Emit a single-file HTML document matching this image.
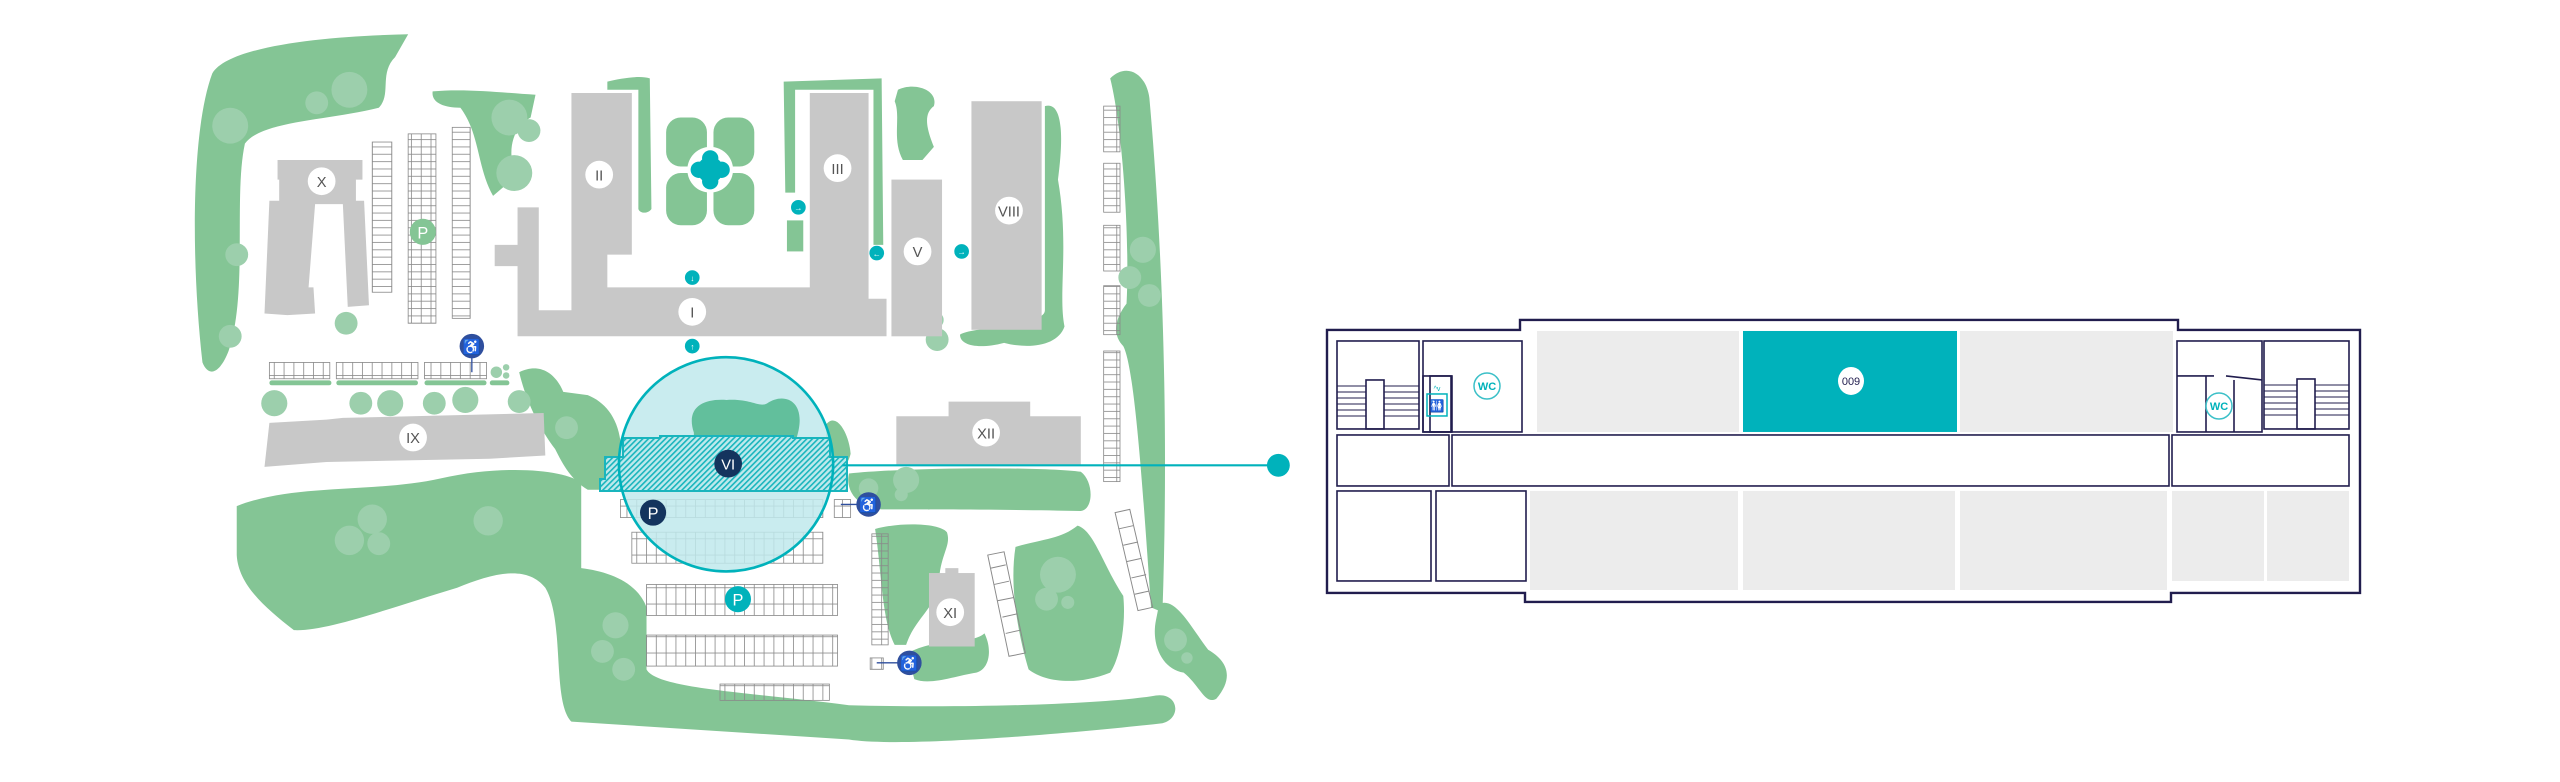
<!DOCTYPE html>
<html><head><meta charset="utf-8"><style>
html,body{margin:0;padding:0;background:#fff;width:2560px;height:782px;overflow:hidden}
svg{display:block}
text{font-family:"Liberation Sans",sans-serif}
</style></head><body>
<svg width="2560" height="782" viewBox="0 0 1568 479" preserveAspectRatio="none" xmlns="http://www.w3.org/2000/svg">
<defs>
<pattern id="h" width="4" height="4" patternUnits="userSpaceOnUse" patternTransform="rotate(45)">
<rect width="4" height="4" fill="#bfe9ec"/><rect width="1.6" height="4" fill="#19b5bd"/></pattern>
<pattern id="pk" width="6" height="10" patternUnits="userSpaceOnUse"><rect width="6" height="10" fill="none" stroke="#8a8a8a" stroke-width="0.5"/></pattern>
<pattern id="pv" width="12" height="4.5" patternUnits="userSpaceOnUse"><rect width="12" height="4.5" fill="none" stroke="#8a8a8a" stroke-width="0.5"/></pattern>
</defs>
<g fill="#84c595">
<path d="M130,45 C140,28 200,22 250,21 L242,35 C232,45 240,58 232,66 C200,74 160,74 150,88 C143,120 152,180 140,215 C135,228 128,232 124,222 C117,160 117,80 130,45 Z"/>
<path d="M265,56 C285,54 310,57 328,58 L325,72 C314,78 310,92 316,108 L302,120 C292,102 294,82 282,66 C272,66 264,63 265,56 Z"/>
<path d="M372,50 C380,48 392,46 398,48 L399,128 C397,131 392,131 391,128 L391,55 L372,55 Z"/>
<path d="M480,50 L540,48 L541,150 L535,150 L535,55 L487,55 L487,118 L481,118 Z"/>
<rect x="482" y="135" width="10" height="19"/>
<path d="M550,55 C560,50 575,55 572,65 C565,70 568,80 572,90 L565,98 L553,98 C546,85 552,72 548,62 Z"/>
<path d="M640,65 C650,62 652,80 648,110 C655,150 648,180 652,200 C648,212 630,214 615,210 C600,214 588,212 588,205 C595,200 640,200 640,190 Z"/>
<path d="M680,48 C690,38 702,45 704,60 C712,150 716,260 712,375 L705,372 C700,300 695,225 688,212 C681,205 683,195 690,186 C692,150 688,80 680,48 Z"/>
<path d="M710,370 C720,365 730,385 740,398 C752,405 756,415 745,428 C738,432 735,420 725,412 C712,410 705,395 708,380 Z"/>
<path d="M145,310 C180,296 230,302 270,293 C310,284 348,288 356,296 L356,348 C372,350 390,356 396,372 L396,410 C402,422 460,424 520,432 C600,434 680,431 708,426 C722,424 724,440 712,443 C650,450 550,458 520,453 L350,442 C338,430 346,380 334,360 C322,345 300,352 280,360 C240,372 200,387 180,386 C162,372 146,358 145,340 Z"/>
<path d="M318,228 C330,222 340,228 345,240 L360,242 C370,246 378,255 380,270 L380,300 L360,300 C350,294 345,285 340,275 C330,262 322,245 318,228 Z"/>
<path d="M506,260 C512,252 520,265 521,278 C518,290 508,292 506,282 Z"/>
<path d="M520,290 C560,286 640,286 662,289 C670,295 670,312 662,313 C620,312 560,312 540,312 C522,310 518,298 520,290 Z"/>
<path d="M536,324 C550,320 575,320 580,326 C583,335 575,340 575,360 C570,375 560,380 555,395 L548,395 C540,380 540,350 536,324 Z"/>
<path d="M556,400 C575,390 595,395 603,388 C608,398 606,410 598,412 C585,414 570,420 560,416 Z"/>
<path d="M622,335 C640,330 650,330 660,322 C670,325 675,345 688,365 C690,385 685,405 680,412 C660,420 640,418 630,410 C624,390 618,360 622,335 Z"/>
<rect x="165" y="233" width="38" height="3" rx="1.5"/><rect x="206" y="233" width="50" height="3" rx="1.5"/><rect x="260" y="233" width="38" height="3" rx="1.5"/><rect x="300" y="233" width="12" height="3" rx="1.5"/>
</g>
<g fill="#9ccfac">
<circle cx="141" cy="77" r="11"/><circle cx="194" cy="63" r="7"/><circle cx="214" cy="55" r="11"/><circle cx="145" cy="156" r="7"/><circle cx="141" cy="206" r="7"/>
<circle cx="312" cy="72" r="11"/><circle cx="324" cy="80" r="7"/><circle cx="315" cy="106" r="11"/>
<circle cx="212" cy="198" r="7"/><circle cx="168" cy="247" r="8"/><circle cx="221" cy="247" r="7"/><circle cx="239" cy="247" r="8"/><circle cx="266" cy="247" r="7"/><circle cx="285" cy="245" r="8"/><circle cx="318" cy="246" r="7"/>
<circle cx="304" cy="228" r="3.5"/><circle cx="310" cy="230" r="2"/><circle cx="310" cy="225" r="2"/>
<circle cx="347" cy="262" r="7"/><circle cx="228" cy="318" r="9"/><circle cx="214" cy="331" r="9"/><circle cx="232" cy="333" r="7"/><circle cx="299" cy="319" r="9"/>
<circle cx="377" cy="383" r="8"/><circle cx="369" cy="399" r="7"/><circle cx="382" cy="410" r="7"/>
<circle cx="700" cy="153" r="8"/><circle cx="692" cy="170" r="7"/><circle cx="704" cy="181" r="7"/><circle cx="648" cy="352" r="11"/><circle cx="641" cy="367" r="7"/><circle cx="654" cy="369" r="4"/>
<circle cx="720" cy="392" r="7"/><circle cx="727" cy="403" r="3.5"/><circle cx="573" cy="196" r="5"/><circle cx="574" cy="208" r="7"/><circle cx="555" cy="294" r="8"/><circle cx="552" cy="303" r="4"/><circle cx="532" cy="299" r="6"/>
</g>
<!-- plaza -->
<g fill="#84c595"><rect x="408" y="72" width="25" height="30" rx="9"/><rect x="437" y="72" width="25" height="30" rx="9"/><rect x="408" y="106" width="25" height="32" rx="9"/><rect x="437" y="106" width="25" height="32" rx="9"/></g>
<circle cx="435" cy="104" r="14" fill="#fff"/>
<g fill="#00b2bb"><circle cx="435" cy="104" r="8"/><circle cx="428" cy="104" r="5"/><circle cx="442" cy="104" r="5"/><circle cx="435" cy="97" r="5"/><circle cx="435" cy="111" r="5"/></g>
<!-- buildings -->
<g fill="#c8c8c8">
<path d="M170,98 L222,98 L222,110 L218,110 L218,123 L223,123 L226,187 L213,188 L210,125 L193,125 L189,176 L192,176 L193,192 L176,193 L162,192 L165,123 L171,123 L171,110 L170,110 Z"/>
<path d="M350,57 L387,57 L387,156 L372,156 L372,176 L496,176 L496,57 L532,57 L532,183 L543,183 L543,206 L317,206 L317,163 L303,163 L303,150 L317,150 L317,127 L330,127 L330,190 L350,190 Z"/>
<rect x="546" y="110" width="31" height="96"/><rect x="595" y="62" width="43" height="140"/>
<path d="M165,259 L200,257 L210,256 L333,253 L334,279 L300,281 L200,283 L162,286 Z"/>
<path d="M549,255 L581,255 L581,246 L631,246 L631,255 L662,255 L662,285 L549,285 Z"/>
<rect x="569" y="351" width="28" height="45"/><rect x="579" y="348" width="8" height="4"/>
</g>
<!-- parking -->
<g fill="url(#pv)" stroke="#8a8a8a" stroke-width="0.5">
<rect x="228" y="87" width="12" height="92"/><rect x="250" y="82" width="17" height="116" /><rect x="277" y="78" width="11" height="117"/>
<rect x="676" y="65" width="10" height="28"/><rect x="676" y="100" width="10" height="30"/><rect x="676" y="138" width="10" height="28"/><rect x="676" y="175" width="10" height="30"/><rect x="676" y="215" width="10" height="80"/>
<rect x="534" y="327" width="10" height="68"/>
</g>
<line x1="258" y1="82" x2="258" y2="198" stroke="#8a8a8a" stroke-width="0.5"/>
<g fill="url(#pk)" stroke="#8a8a8a" stroke-width="0.5">
<rect x="165" y="222" width="37" height="10"/><rect x="206" y="222" width="50" height="10"/><rect x="260" y="222" width="38" height="10"/>
<rect x="380" y="306" width="124" height="11"/><rect x="387" y="326" width="117" height="19"/><rect x="396" y="358" width="117" height="19"/><rect x="396" y="389" width="117" height="19"/><rect x="441" y="419" width="67" height="10"/>
<rect x="511" y="306" width="10" height="11"/><rect x="533" y="403" width="8" height="7"/>
</g>
<g fill="none" stroke="#8a8a8a" stroke-width="0.6"><path d="M605,340 L615,338 L628,400 L618,402 Z M683,314 L692,312 L706,372 L697,374 Z"/>
<path d="M607,348 L616,346 M609,358 L618,356 M611,368 L621,366 M614,378 L623,376 M616,388 L625,386 M685,324 L694,322 M688,334 L697,332 M690,344 L699,342 M693,354 L702,352 M695,364 L704,362"/></g>
<!-- VI circle -->
<circle cx="444.7" cy="284.4" r="65.6" fill="#bfe9ec" fill-opacity="0.85"/>
<path d="M425,265 C420,250 430,244 445,245 C460,244 465,250 470,247 C480,240 495,245 488,268 L425,268 Z" fill="#62bf9c"/>
<g transform="scale(0.6125)" fill="url(#h)" stroke="#19b5bd" stroke-width="2">
<path d="M623,438 L660,438 L660,436 L793,436 L793,438 L830,438 L830,457 L847,457 L847,491 L600,491 L600,479 L605,479 L605,457 L623,457 Z"/>
</g>
<circle cx="444.7" cy="284.4" r="65.6" fill="none" stroke="#00b2bb" stroke-width="1.6"/>
<!-- connector -->
<line x1="516" y1="285" x2="783" y2="285" stroke="#00b2bb" stroke-width="1.3"/>
<circle cx="783" cy="285" r="7" fill="#00b2bb"/>
<!-- labels -->
<g fill="#fff"><circle cx="197" cy="111" r="8.5"/><circle cx="367" cy="107" r="8.5"/><circle cx="513" cy="103" r="8.5"/><circle cx="618" cy="129" r="8.5"/><circle cx="562" cy="154" r="8.5"/><circle cx="424" cy="191" r="8.5"/><circle cx="253" cy="268" r="8.5"/><circle cx="604" cy="265" r="8.5"/><circle cx="582" cy="375" r="8.5"/></g>
<g fill="#555" font-size="9" text-anchor="middle"><text x="197" y="114.5">X</text><text x="367" y="110.5">II</text><text x="513" y="106.5">III</text><text x="618" y="132.5">VIII</text><text x="562" y="157.5">V</text><text x="424" y="194.5">I</text><text x="253" y="271.5">IX</text><text x="604" y="268.5">XII</text><text x="582" y="378.5">XI</text></g>
<circle cx="446" cy="284" r="8.5" fill="#14345e"/><text x="446" y="287.5" fill="#fff" font-size="9" text-anchor="middle">VI</text>
<circle cx="259" cy="142" r="8" fill="#84c595"/><text x="259" y="146" fill="#fff" font-size="10" text-anchor="middle">P</text>
<circle cx="400" cy="314" r="8" fill="#14345e"/><text x="400" y="318" fill="#fff" font-size="10" text-anchor="middle">P</text>
<circle cx="452" cy="367" r="8" fill="#00b2bb"/><text x="452" y="371" fill="#fff" font-size="10" text-anchor="middle">P</text>
<g stroke="#2f4f9e" stroke-width="0.8"><line x1="289" y1="212" x2="289" y2="228"/><line x1="515" y1="309" x2="532" y2="309"/><line x1="537" y1="406" x2="557" y2="406"/></g>
<g fill="#2f4f9e"><circle cx="289" cy="212" r="7.5"/><circle cx="532" cy="309" r="7.5"/><circle cx="557" cy="406" r="7.5"/></g>
<g fill="#fff" font-size="9" text-anchor="middle"><text x="289" y="215.5">♿</text><text x="532" y="312.5">♿</text><text x="557" y="409.5">♿</text></g>
<g fill="#00b2bb"><circle cx="424" cy="170" r="4.5"/><circle cx="424" cy="212" r="4.5"/><circle cx="489" cy="127" r="4.5"/><circle cx="537" cy="155" r="4.5"/><circle cx="589" cy="154" r="4.5"/></g>
<g fill="#fff" font-size="5" text-anchor="middle"><text x="424" y="172">↓</text><text x="424" y="214">↑</text><text x="489" y="129">→</text><text x="537" y="157">←</text><text x="589" y="156">→</text></g>
<!-- floor plan, original coords -->
<g transform="scale(0.6125)">
<g fill="#ececec"><rect x="1537" y="331" width="202" height="101"/><rect x="1960" y="331" width="213" height="101"/>
<rect x="1530" y="491" width="208" height="99"/><rect x="1743" y="491" width="212" height="99"/><rect x="1960" y="491" width="207" height="99"/><rect x="2172" y="491" width="92" height="90"/><rect x="2267" y="491" width="82" height="90"/></g>
<rect x="1743" y="331" width="214" height="101" fill="#00b2bb"/>
<g fill="none" stroke="#211d4e" stroke-width="2.4">
<path d="M1327,330 L1520,330 L1520,320 L2178,320 L2178,330 L2360,330 L2360,593 L2171,593 L2171,602 L1525,602 L1525,593 L1327,593 Z"/>
</g>
<g fill="none" stroke="#211d4e" stroke-width="1.6">
<rect x="1337" y="341" width="82" height="88"/><rect x="1423" y="341" width="99" height="91"/><rect x="1423" y="376" width="28" height="56"/><rect x="1430" y="376" width="22" height="56"/>
<rect x="1366" y="380" width="18" height="49"/>
<rect x="1337" y="435" width="112" height="51"/><rect x="1452" y="435" width="717" height="51"/><rect x="2172" y="435" width="177" height="51"/>
<rect x="1337" y="491" width="94" height="90"/><rect x="1436" y="491" width="90" height="90"/>
<rect x="2177" y="341" width="85" height="91"/><rect x="2264" y="341" width="85" height="88"/><rect x="2297" y="379" width="18" height="50"/>
<line x1="2177" y1="376" x2="2214" y2="376"/><line x1="2226" y1="376" x2="2262" y2="380"/><line x1="2206" y1="376" x2="2206" y2="432"/><line x1="2234" y1="380" x2="2234" y2="432"/>
</g>
<g stroke="#211d4e" stroke-width="1"><path d="M1337,386 H1366 M1337,392 H1366 M1337,398 H1366 M1337,404 H1366 M1337,410 H1366 M1337,416 H1366 M1384,386 H1419 M1384,392 H1419 M1384,398 H1419 M1384,404 H1419 M1384,410 H1419 M1384,416 H1419 M2264,385 H2297 M2264,391 H2297 M2264,397 H2297 M2264,403 H2297 M2264,409 H2297 M2264,415 H2297 M2315,385 H2349 M2315,391 H2349 M2315,397 H2349 M2315,403 H2349 M2315,409 H2349 M2315,415 H2349"/></g>
<rect x="1427" y="394" width="20" height="22" fill="none" stroke="#00b2bb" stroke-width="1.5"/>
<text x="1437" y="410" font-size="12" fill="#00b2bb" text-anchor="middle">🚻</text>
<text x="1437" y="391" font-size="7" fill="#00b2bb" text-anchor="middle">^v</text>
<g fill="#fff" stroke="#3cc0c8" stroke-width="1.5"><circle cx="1487" cy="386" r="13"/><circle cx="2219" cy="406" r="13"/></g>
<g fill="#00b2bb" font-size="11" font-weight="bold" text-anchor="middle"><text x="1487" y="390">WC</text><text x="2219" y="410">WC</text></g>
<ellipse cx="1851" cy="381" rx="13" ry="14" fill="#fff"/>
<text x="1851" y="385" font-size="11" fill="#211d4e" text-anchor="middle">009</text>
</g>
</svg>
</body></html>
